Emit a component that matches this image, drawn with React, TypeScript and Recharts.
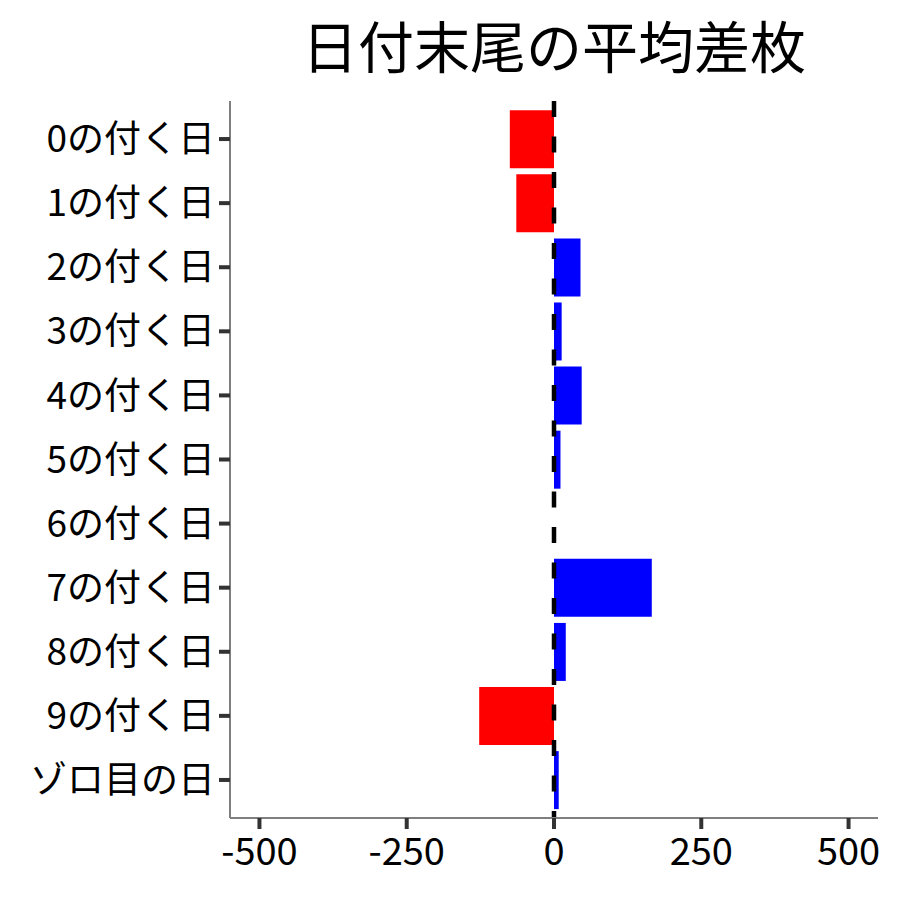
import { BarChart, Bar, XAxis, YAxis, Cell, ReferenceLine } from "recharts";

const days = [
  "0の付く日",
  "1の付く日",
  "2の付く日",
  "3の付く日",
  "4の付く日",
  "5の付く日",
  "6の付く日",
  "7の付く日",
  "8の付く日",
  "9の付く日",
  "ゾロ目の日",
];
const avgDiff = [-75, -64, 45, 13, 47, 11, 0, 166, 20, -127, 8];
const xTicks = [-500, -250, 0, 250, 500];

const data = days.map((day, i) => ({ day, value: avgDiff[i] }));

const font = '"Noto Sans CJK JP", "Noto Sans", sans-serif';

export default function App() {
  return (
    <div style={{ position: "absolute", left: 0, top: 0, width: 900, height: 900, background: "#fff", fontFamily: font }}>
      <div
        style={{
          position: "absolute",
          left: 230,
          width: 648,
          top: 13,
          textAlign: "center",
          fontSize: 56,
          lineHeight: "62px",
          color: "#000",
        }}
      >
        日付末尾の平均差枚
      </div>
      <BarChart
        width={900}
        height={900}
        data={data}
        layout="vertical"
        margin={{ top: 101, right: 22, bottom: 0, left: 0 }}
        barCategoryGap="5%"
      >
        <XAxis
          type="number"
          domain={[-550, 550]}
          ticks={xTicks}
          allowDataOverflow
          height={82}
          axisLine={{ stroke: "#7f7f7f", strokeWidth: 2 }}
          tickLine={{ stroke: "#333", strokeWidth: 4 }}
          tickSize={11}
          tickMargin={9}
          tick={{ fill: "#000", fontSize: 38, fontFamily: font }}
        />
        <YAxis
          type="category"
          dataKey="day"
          width={230}
          padding={{ top: 6, bottom: 6 }}
          axisLine={{ stroke: "#7f7f7f", strokeWidth: 2 }}
          tickLine={{ stroke: "#333", strokeWidth: 4 }}
          tickSize={11}
          tickMargin={4}
          tick={{ fill: "#000", fontSize: 37, fontFamily: font }}
        />
        <Bar dataKey="value" isAnimationActive={false}>
          {data.map((d) => (
            <Cell key={d.day} fill={d.value < 0 ? "#ff0000" : "#0000ff"} />
          ))}
        </Bar>
        <ReferenceLine x={0} stroke="#000" strokeWidth={4.5} strokeDasharray="16 19.5" strokeDashoffset={9} />
      </BarChart>
    </div>
  );
}
